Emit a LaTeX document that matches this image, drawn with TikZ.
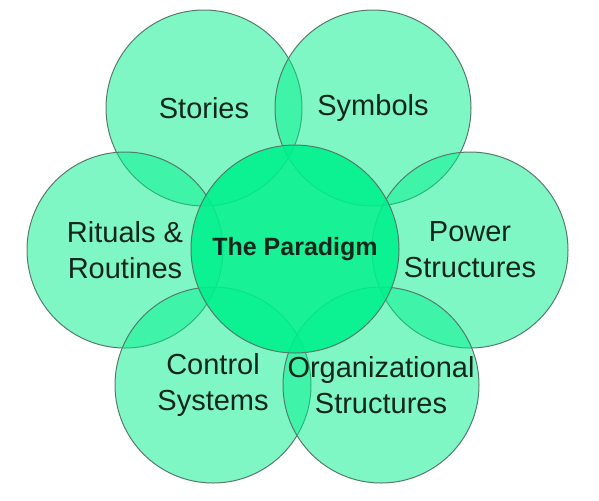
\documentclass[tikz,border=0pt]{standalone}
\usepackage{fontspec}
\setsansfont{Liberation Sans}
\definecolor{paragreen}{RGB}{0,240,140}
\definecolor{paraline}{HTML}{557A6B}
\definecolor{paratext}{HTML}{12261B}

\begin{document}
\begin{tikzpicture}[x=0.5pt, y=-0.5pt, font=\sffamily,
  petal/.style={circle, draw=paraline, line width=0.5pt, fill=paragreen, fill opacity=0.5, text opacity=1, text=paratext, minimum size=98pt, inner sep=0pt, align=center, font=\sffamily\fontsize{14.5}{18}\selectfont},
  core/.style={petal, fill opacity=0.9, minimum size=104pt, font=\sffamily\bfseries\fontsize{12.5}{15}\selectfont}]
\useasboundingbox (0,0) rectangle (599,500);
\node[petal] (stories) at (204,108) {Stories};
\node[petal] (symbols) at (373,108) {Symbols};
\node[petal] (rituals) at (125,250) {Rituals \&\\Routines};
\node[petal] (power) at (470,250) {Power\\Structures};
\node[petal] (control) at (213,385) {Control\\Systems};
\node[petal] (orgstruct) at (381,385) {Organizational\\Structures};
% centre circle on top
\node[core] (paradigm) at (295,249) {The Paradigm};
\end{tikzpicture}
\end{document}
